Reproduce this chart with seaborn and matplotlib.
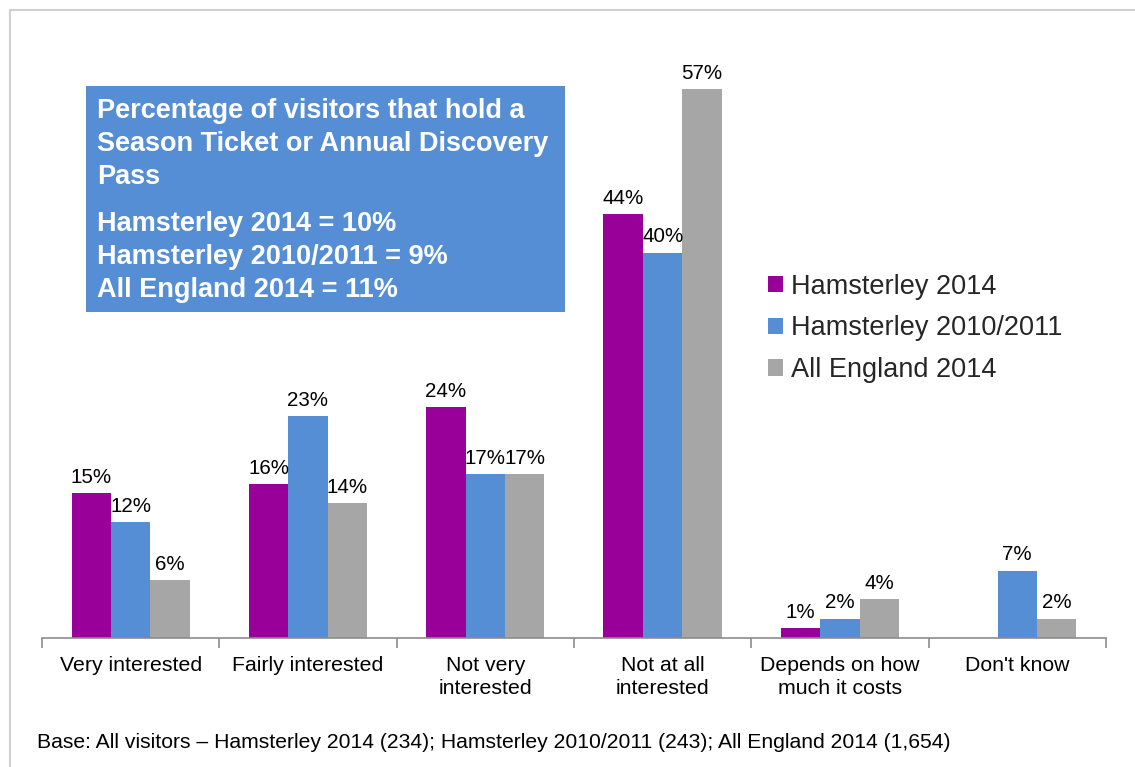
import numpy as np
import pandas as pd
import matplotlib
matplotlib.use("Agg")
import matplotlib.pyplot as plt
from matplotlib.patches import Rectangle, Patch
import seaborn as sns

sns.set_theme(style="white")
plt.rcParams["font.family"] = ["Liberation Sans", "DejaVu Sans"]

categories = ["Very interested", "Fairly interested", "Not very\ninterested",
              "Not at all\ninterested", "Depends on how\nmuch it costs", "Don't know"]
series = ["Hamsterley 2014", "Hamsterley 2010/2011", "All England 2014"]
hamsterley_2014 = [15, 16, 24, 44, 1, np.nan]
hamsterley_2010_2011 = [12, 23, 17, 40, 2, 7]
all_england_2014 = [6, 14, 17, 57, 4, 2]
colors = ["#990099", "#558ED5", "#A6A6A6"]

box_title = "Percentage of visitors that hold a\nSeason Ticket or Annual Discovery\nPass"
box_lines = ["Hamsterley 2014 = 10%", "Hamsterley 2010/2011 = 9%", "All England 2014 = 11%"]
footnote = "Base: All visitors \u2013 Hamsterley 2014 (234); Hamsterley 2010/2011 (243); All England 2014 (1,654)"

rows = []
for name, vals in zip(series, [hamsterley_2014, hamsterley_2010_2011, all_england_2014]):
    for cat, v in zip(categories, vals):
        rows.append({"category": cat, "series": name, "value": v})
df = pd.DataFrame(rows)

fig = plt.figure(figsize=(11.35, 7.67), dpi=100)
ax = fig.add_axes([0.037, 0.1682, 0.9374, 0.7536])

sns.barplot(data=df, x="category", y="value", hue="series", order=categories,
            hue_order=series, palette=colors, width=0.667, linewidth=0,
            saturation=1, ax=ax, legend=False, errorbar=None)

ax.set_ylim(0, 60)
ax.set_xlim(-0.5, len(categories) - 0.5)
ax.set_xlabel("")
ax.set_ylabel("")
ax.set_yticks([])
for side in ["top", "right", "left"]:
    ax.spines[side].set_visible(False)
ax.spines["bottom"].set_color("#8C8C8C")
ax.spines["bottom"].set_linewidth(1.2)

ax.set_xticks(range(len(categories)))
ax.set_xticklabels(categories, fontsize=15.3, color="#000000", linespacing=1.25)
ax.tick_params(axis="x", which="major", length=0, pad=13)
ax.set_xticks(np.arange(-0.5, len(categories), 1.0), minor=True)
ax.tick_params(axis="x", which="minor", length=7, width=1.2, color="#8C8C8C", bottom=True)

for container in ax.containers:
    labels = ["" if np.isnan(v) else f"{v:.0f}%" for v in container.datavalues]
    ax.bar_label(container, labels=labels, padding=4.5, fontsize=14.8, color="#000000")

handles = [Patch(facecolor=c, edgecolor="none", label=s) for c, s in zip(colors, series)]
fig.legend(handles=handles, loc="upper left", bbox_to_anchor=(0.655, 0.675),
           frameon=False, fontsize=19.5, handlelength=0.55, handleheight=0.55,
           handletextpad=0.3, labelspacing=0.58)

# information panel
fig.patches.append(Rectangle((86 / 1135, 1 - 312 / 767), 479 / 1135, 226 / 767,
                             transform=fig.transFigure, facecolor="#558ED5",
                             edgecolor="none", zorder=5))
fig.text(97 / 1135, 1 - 98 / 767, box_title, color="white", fontsize=19.5,
         fontweight="bold", va="top", ha="left", linespacing=1.34, zorder=6)
fig.text(97 / 1135, 1 - 211 / 767, "\n".join(box_lines), color="white", fontsize=19.5,
         fontweight="bold", va="top", ha="left", linespacing=1.34, zorder=6)

fig.text(37 / 1135, 1 - 742 / 767, footnote, fontsize=15.2, color="#000000",
         va="center", ha="left")

# outer frame
fig.patches.append(Rectangle((10 / 1135, -0.1), 1.2, 1 - 10 / 767 + 0.1,
                             transform=fig.transFigure, facecolor="none",
                             edgecolor="#D0D0D0", linewidth=1.5, zorder=0))

fig.savefig("out.png", dpi=100)
